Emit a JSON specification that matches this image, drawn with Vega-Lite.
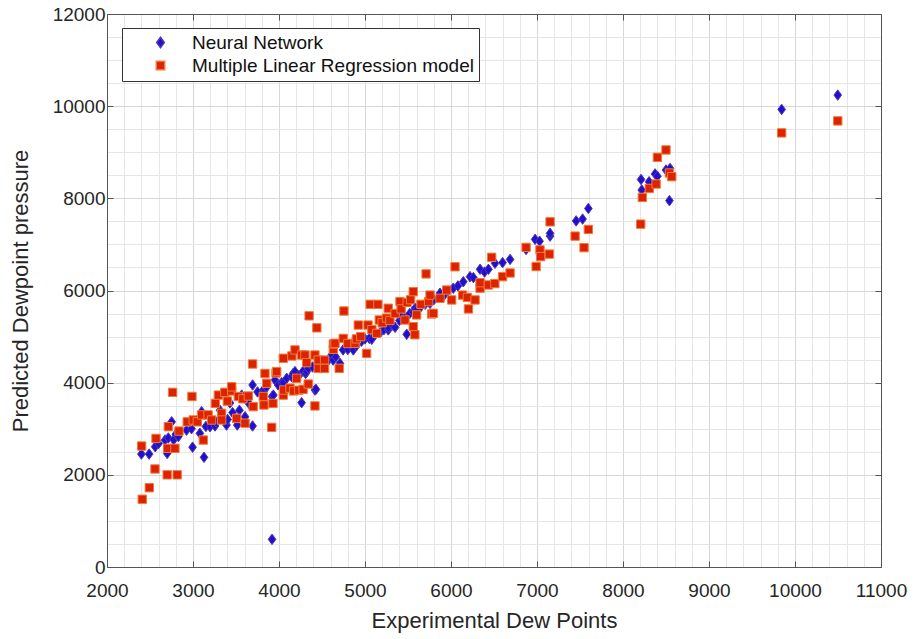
{
  "$schema": "https://vega.github.io/schema/vega-lite/v6.json",
  "autosize": {"type": "none"},
  "width": 774,
  "height": 553,
  "padding": {"left": 107, "top": 14, "right": 34, "bottom": 72},
  "background": "white",
  "config": {
    "view": {"stroke": null},
    "font": "Liberation Sans",
    "axis": {"labelFont": "Liberation Sans", "titleFont": "Liberation Sans", "labelColor": "#262626", "titleColor": "#262626", "titleFontWeight": "normal", "domainColor": "#555555", "tickColor": "#555555", "labelOverlap": false, "labelFlush": false},
    "legend": {"labelFont": "Liberation Sans", "labelFontSize": 19, "labelColor": "#111111", "labelLimit": 500}
  },
  "datasets": {
    "nn": [
      {"x":2400,"y":2450},{"x":2490,"y":2450},{"x":2560,"y":2610},{"x":2600,"y":2680},{"x":2675,"y":2755},{"x":2700,"y":2465},{"x":2713,"y":2800},{"x":2752,"y":3150},{"x":2775,"y":2760},{"x":2800,"y":2880},{"x":2830,"y":2830},{"x":2925,"y":2970},{"x":2983,"y":3000},{"x":2995,"y":2600},{"x":3080,"y":2900},{"x":3100,"y":3370},{"x":3128,"y":2380},{"x":3150,"y":3050},{"x":3198,"y":3045},{"x":3256,"y":3060},{"x":3265,"y":3150},{"x":3314,"y":3400},{"x":3350,"y":3250},{"x":3390,"y":3080},{"x":3403,"y":3200},{"x":3430,"y":3560},{"x":3460,"y":3350},{"x":3515,"y":3080},{"x":3540,"y":3400},{"x":3566,"y":3730},{"x":3605,"y":3260},{"x":3650,"y":3550},{"x":3693,"y":3060},{"x":3693,"y":3950},{"x":3750,"y":3800},{"x":3817,"y":3840},{"x":3817,"y":3770},{"x":3855,"y":3900},{"x":3920,"y":3700},{"x":3935,"y":3730},{"x":3953,"y":4060},{"x":3990,"y":3950},{"x":4030,"y":4000},{"x":4050,"y":4000},{"x":4090,"y":4095},{"x":4147,"y":4130},{"x":4165,"y":4200},{"x":4186,"y":4240},{"x":4230,"y":4150},{"x":4263,"y":3565},{"x":4280,"y":4250},{"x":4310,"y":4200},{"x":4322,"y":4240},{"x":4340,"y":4310},{"x":4390,"y":4340},{"x":4418,"y":3840},{"x":4430,"y":3855},{"x":4480,"y":4400},{"x":4530,"y":4450},{"x":4580,"y":4500},{"x":4612,"y":4600},{"x":4630,"y":4490},{"x":4660,"y":4560},{"x":4709,"y":4420},{"x":4745,"y":4710},{"x":4800,"y":4720},{"x":4853,"y":4820},{"x":4864,"y":4710},{"x":4900,"y":4800},{"x":4960,"y":4900},{"x":5000,"y":4950},{"x":5050,"y":4960},{"x":5078,"y":4940},{"x":5120,"y":5050},{"x":5175,"y":5085},{"x":5220,"y":5150},{"x":5270,"y":5145},{"x":5270,"y":5200},{"x":5320,"y":5250},{"x":5350,"y":5200},{"x":5400,"y":5350},{"x":5420,"y":5430},{"x":5460,"y":5400},{"x":5485,"y":5050},{"x":5520,"y":5500},{"x":5560,"y":5520},{"x":5582,"y":5615},{"x":5600,"y":5580},{"x":5650,"y":5650},{"x":5700,"y":5700},{"x":5756,"y":5720},{"x":5800,"y":5800},{"x":5872,"y":5940},{"x":5920,"y":5900},{"x":5960,"y":5980},{"x":6027,"y":6050},{"x":6080,"y":6100},{"x":6143,"y":6190},{"x":6221,"y":6300},{"x":6260,"y":6280},{"x":6338,"y":6460},{"x":6390,"y":6400},{"x":6435,"y":6460},{"x":6512,"y":6590},{"x":6600,"y":6605},{"x":6687,"y":6675},{"x":6873,"y":6890},{"x":6978,"y":7110},{"x":7030,"y":7070},{"x":7152,"y":7180},{"x":7152,"y":7240},{"x":7455,"y":7510},{"x":7530,"y":7550},{"x":7597,"y":7780},{"x":8210,"y":8410},{"x":8218,"y":8180},{"x":8303,"y":8360},{"x":8373,"y":8530},{"x":8400,"y":8480},{"x":8500,"y":8615},{"x":8547,"y":8650},{"x":8540,"y":7950},{"x":9845,"y":9930},{"x":10497,"y":10240},{"x":3919,"y":600}
    ],
    "mlr": [
      {"x":2403,"y":2625},{"x":2410,"y":1470},{"x":2492,"y":1720},{"x":2558,"y":2127},{"x":2570,"y":2790},{"x":2700,"y":2000},{"x":2705,"y":2575},{"x":2713,"y":3045},{"x":2763,"y":3790},{"x":2790,"y":2575},{"x":2816,"y":2000},{"x":2837,"y":2950},{"x":2933,"y":3150},{"x":2988,"y":3700},{"x":3003,"y":3190},{"x":3050,"y":3150},{"x":3100,"y":3300},{"x":3120,"y":2755},{"x":3175,"y":3300},{"x":3216,"y":3190},{"x":3260,"y":3550},{"x":3295,"y":3730},{"x":3333,"y":3335},{"x":3333,"y":3190},{"x":3370,"y":3790},{"x":3400,"y":3600},{"x":3450,"y":3820},{"x":3450,"y":3910},{"x":3508,"y":3225},{"x":3527,"y":3700},{"x":3580,"y":3650},{"x":3605,"y":3120},{"x":3643,"y":3710},{"x":3693,"y":4405},{"x":3700,"y":3480},{"x":3817,"y":3700},{"x":3825,"y":3515},{"x":3837,"y":4200},{"x":3857,"y":3985},{"x":3915,"y":3030},{"x":3930,"y":3550},{"x":3965,"y":4210},{"x":3973,"y":4240},{"x":4050,"y":3730},{"x":4050,"y":4530},{"x":4055,"y":3840},{"x":4128,"y":3880},{"x":4150,"y":4580},{"x":4170,"y":3820},{"x":4186,"y":4710},{"x":4205,"y":4095},{"x":4230,"y":3835},{"x":4263,"y":4600},{"x":4280,"y":3855},{"x":4302,"y":4600},{"x":4322,"y":4435},{"x":4340,"y":3970},{"x":4350,"y":5450},{"x":4418,"y":3495},{"x":4418,"y":4600},{"x":4440,"y":5190},{"x":4456,"y":4490},{"x":4456,"y":4310},{"x":4530,"y":4490},{"x":4530,"y":4310},{"x":4632,"y":4725},{"x":4632,"y":4840},{"x":4652,"y":4855},{"x":4700,"y":4310},{"x":4747,"y":4960},{"x":4755,"y":5555},{"x":4800,"y":4850},{"x":4884,"y":4855},{"x":4900,"y":4950},{"x":4922,"y":5250},{"x":4950,"y":5000},{"x":5019,"y":4635},{"x":5035,"y":5250},{"x":5060,"y":5700},{"x":5080,"y":5150},{"x":5136,"y":5070},{"x":5150,"y":5700},{"x":5166,"y":5360},{"x":5200,"y":5300},{"x":5250,"y":5400},{"x":5270,"y":5615},{"x":5290,"y":5350},{"x":5350,"y":5500},{"x":5407,"y":5760},{"x":5420,"y":5600},{"x":5465,"y":5360},{"x":5490,"y":5740},{"x":5530,"y":5800},{"x":5561,"y":5975},{"x":5561,"y":5215},{"x":5580,"y":5040},{"x":5600,"y":5470},{"x":5650,"y":5700},{"x":5710,"y":6360},{"x":5740,"y":5760},{"x":5756,"y":5900},{"x":5775,"y":5490},{"x":5795,"y":5505},{"x":5872,"y":5830},{"x":5950,"y":6010},{"x":6008,"y":5795},{"x":6047,"y":6515},{"x":6135,"y":5900},{"x":6190,"y":5850},{"x":6203,"y":5600},{"x":6280,"y":5795},{"x":6338,"y":6050},{"x":6338,"y":6170},{"x":6435,"y":6120},{"x":6473,"y":6720},{"x":6510,"y":6150},{"x":6600,"y":6300},{"x":6687,"y":6380},{"x":6873,"y":6935},{"x":6990,"y":6520},{"x":7035,"y":6880},{"x":7043,"y":6735},{"x":7143,"y":6790},{"x":7152,"y":7490},{"x":7443,"y":7180},{"x":7547,"y":6930},{"x":7597,"y":7325},{"x":8206,"y":7440},{"x":8225,"y":8020},{"x":8306,"y":8215},{"x":8385,"y":8310},{"x":8400,"y":8890},{"x":8500,"y":9050},{"x":8540,"y":8550},{"x":8567,"y":8470},{"x":9845,"y":9420},{"x":10497,"y":9680}
    ]
  },
  "layer": [
    {
      "data": {"name": "nn"},
      "mark": {"type": "point", "filled": true, "opacity": 1, "strokeWidth": 1},
      "encoding": {
        "x": {"field": "x", "type": "quantitative",
          "scale": {"domain": [2000, 11000], "nice": false, "zero": false},
          "axis": {"orient": "bottom", "title": "Experimental Dew Points", "titleFontSize": 22, "titlePadding": 10,
            "values": [2000,2200,2400,2600,2800,3000,3200,3400,3600,3800,4000,4200,4400,4600,4800,5000,5200,5400,5600,5800,6000,6200,6400,6600,6800,7000,7200,7400,7600,7800,8000,8200,8400,8600,8800,9000,9200,9400,9600,9800,10000,10200,10400,10600,10800,11000],
            "labelExpr": "datum.value % 1000 === 0 ? format(datum.value, 'd') : ''",
            "labelFontSize": 19, "labelPadding": 20,
            "grid": true,
            "gridColor": {"condition": {"test": "datum.value % 1000 === 0", "value": "#d6d6d6"}, "value": "#e6e6e6"},
            "tickSize": -6,
            "tickOpacity": {"condition": {"test": "datum.value % 1000 === 0", "value": 1}, "value": 0}}},
        "y": {"field": "y", "type": "quantitative",
          "scale": {"domain": [0, 12000], "nice": false, "zero": false},
          "axis": {"orient": "left", "title": "Predicted Dewpoint pressure", "titleFontSize": 22, "titlePadding": 20,
            "values": [0,500,1000,1500,2000,2500,3000,3500,4000,4500,5000,5500,6000,6500,7000,7500,8000,8500,9000,9500,10000,10500,11000,11500,12000],
            "labelExpr": "datum.value % 2000 === 0 ? format(datum.value, 'd') : ''",
            "labelFontSize": 19, "labelPadding": 8,
            "grid": true,
            "gridColor": {"condition": {"test": "datum.value % 2000 === 0", "value": "#d6d6d6"}, "value": "#e6e6e6"},
            "tickSize": -6,
            "tickOpacity": {"condition": {"test": "datum.value % 2000 === 0", "value": 1}, "value": 0}}},
        "color": {"datum": "Neural Network", "type": "nominal", "title": null,
          "scale": {"domain": ["Neural Network", "Multiple Linear Regression model"], "range": ["#2010cc", "#dd2200"]},
          "legend": {"orient": "none", "legendX": 15, "legendY": 14, "fillColor": "white", "strokeColor": "#333333", "padding": 5, "symbolOffset": 24, "labelOffset": 22, "rowPadding": 3, "title": null}},
        "stroke": {"datum": "Neural Network", "type": "nominal", "title": null,
          "scale": {"domain": ["Neural Network", "Multiple Linear Regression model"], "range": ["#5038b8", "#f07a3a"]}},
        "shape": {"datum": "Neural Network", "type": "nominal", "title": null,
          "scale": {"domain": ["Neural Network", "Multiple Linear Regression model"], "range": ["M0,-1L0.73,0L0,1L-0.73,0Z", "square"]}},
        "size": {"datum": "Neural Network", "type": "nominal", "title": null,
          "scale": {"domain": ["Neural Network", "Multiple Linear Regression model"], "range": [110, 70]}}
      }
    },
    {
      "data": {"name": "mlr"},
      "mark": {"type": "point", "filled": true, "opacity": 1, "strokeWidth": 1},
      "encoding": {
        "x": {"field": "x", "type": "quantitative",
          "axis": {"orient": "top", "title": null, "labels": false, "grid": false, "tickSize": -6,
            "values": [2000,3000,4000,5000,6000,7000,8000,9000,10000,11000]}},
        "y": {"field": "y", "type": "quantitative",
          "axis": {"orient": "right", "title": null, "labels": false, "grid": false, "tickSize": -6,
            "values": [0,2000,4000,6000,8000,10000,12000]}},
        "color": {"datum": "Multiple Linear Regression model", "type": "nominal"},
        "stroke": {"datum": "Multiple Linear Regression model", "type": "nominal"},
        "shape": {"datum": "Multiple Linear Regression model", "type": "nominal"},
        "size": {"datum": "Multiple Linear Regression model", "type": "nominal"}
      }
    }
  ],
  "resolve": {"axis": {"x": "independent", "y": "independent"}}
}
